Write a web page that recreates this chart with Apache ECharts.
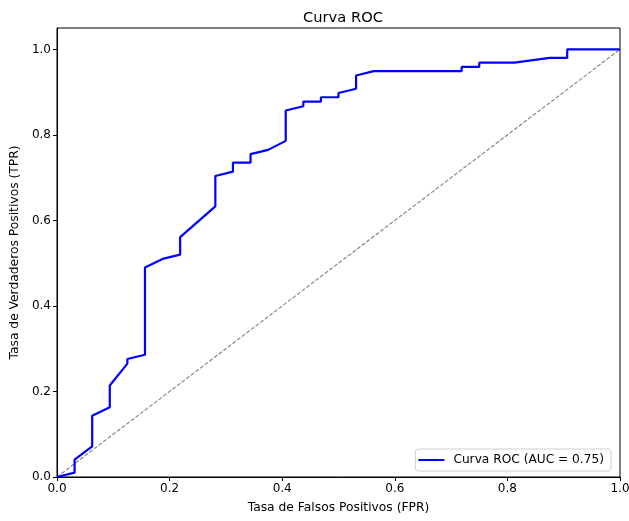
<!DOCTYPE html>
<html>
<head>
<meta charset="utf-8">
<script src="https://cdn.jsdelivr.net/npm/echarts@6/dist/echarts.min.js"></script>
<style>html,body{margin:0;padding:0;background:#fff;}#c{width:629px;height:521px;}</style>
</head>
<body>
<div id="c"></div>
<script>
var fpr = [0, 0.03125, 0.03125, 0.0625, 0.0625, 0.09375, 0.09375, 0.125, 0.125, 0.15625, 0.15625, 0.1875, 0.21875, 0.21875, 0.28125, 0.28125, 0.3125, 0.3125, 0.34375, 0.34375, 0.375, 0.40625, 0.40625, 0.4375, 0.4375, 0.46875, 0.46875, 0.5, 0.5, 0.53125, 0.53125, 0.5625, 0.71875, 0.71875, 0.75, 0.75, 0.8125, 0.875, 0.90625, 0.90625, 1];
var tpr = [0, 0.0102, 0.0408, 0.0714, 0.143, 0.163, 0.214, 0.265, 0.276, 0.286, 0.490, 0.510, 0.520, 0.561, 0.633, 0.704, 0.714, 0.735, 0.735, 0.755, 0.765, 0.786, 0.857, 0.867, 0.878, 0.878, 0.888, 0.888, 0.898, 0.908, 0.939, 0.949, 0.949, 0.959, 0.959, 0.969, 0.969, 0.980, 0.980, 1.0, 1.0];
var diagX = [0, 1];
var diagY = [0, 1];
var tickVals = [0, 0.2, 0.4, 0.6, 0.8, 1.0];
var rocName = 'Curva ROC (AUC = 0.75)';

var font = 'DejaVu Sans';
var rocData = fpr.map(function (x, i) { return [x, tpr[i]]; });
var diagData = diagX.map(function (x, i) { return [x, diagY[i]]; });

var chart = echarts.init(document.getElementById('c'), null, {renderer: 'canvas'});
chart.setOption({
  animation: false,
  backgroundColor: '#fff',
  title: {
    text: 'Curva ROC',
    left: 298, top: 6,
    textStyle: {fontFamily: font, fontSize: 14.7, fontWeight: 'normal', color: '#000'}
  },
  grid: {left: 57, right: 9, top: 28, bottom: 44, show: true, borderColor: '#000', borderWidth: 1,
    backgroundColor: 'transparent', containLabel: false, outerBoundsMode: 'none'},
  legend: {
    data: [rocName],
    right: 18, bottom: 50,
    orient: 'vertical',
    padding: [5, 7, 5, 3],
    itemWidth: 26, itemHeight: 2, itemGap: 4,
    icon: 'rect',
    borderColor: '#d0d0d0', borderWidth: 1, borderRadius: 3,
    backgroundColor: 'rgba(255,255,255,0.8)',
    textStyle: {fontFamily: font, fontSize: 12.2, color: '#000', padding: [0, 0, 0, 4]}
  },
  xAxis: {
    type: 'value', min: 0, max: 1, interval: 0.2,
    name: 'Tasa de Falsos Positivos (FPR)', nameLocation: 'middle', nameGap: 25,
    nameTextStyle: {fontFamily: font, fontSize: 12.3, color: '#000'},
    axisLine: {show: true, lineStyle: {color: '#000', width: 1}},
    axisTick: {show: true, length: 4, lineStyle: {color: '#000'}},
    axisLabel: {fontFamily: font, fontSize: 12, color: '#000', margin: 6,
      formatter: function (v) { return v.toFixed(1); }},
    splitLine: {show: false}
  },
  yAxis: {
    type: 'value', min: 0, max: 1.05,
    name: 'Tasa de Verdaderos Positivos (TPR)', nameLocation: 'middle', nameGap: 31,
    nameTextStyle: {fontFamily: font, fontSize: 12.3, color: '#000'},
    axisLine: {show: true, lineStyle: {color: '#000', width: 1}},
    axisTick: {show: true, length: 4, lineStyle: {color: '#000'}, customValues: tickVals},
    axisLabel: {fontFamily: font, fontSize: 12, color: '#000', margin: 6, customValues: tickVals,
      formatter: function (v) { return v.toFixed(1); }},
    splitLine: {show: false}
  },
  series: [
    {
      name: 'diag', type: 'line', data: diagData, showSymbol: false, silent: true,
      lineStyle: {color: '#808080', width: 1.1, type: [4, 1.8]}, z: 2
    },
    {
      name: rocName, type: 'line', data: rocData, showSymbol: false,
      itemStyle: {color: '#0000ff'},
      lineStyle: {color: '#0000ff', width: 2.2}, z: 3
    }
  ]
});
</script>
</body>
</html>
